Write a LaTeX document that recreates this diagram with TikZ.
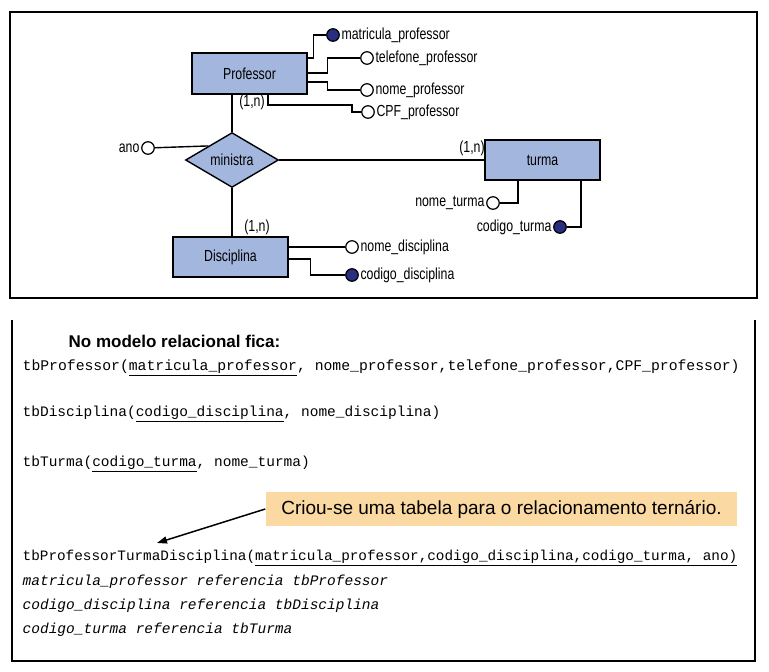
\documentclass[tikz,border=0pt]{standalone}
\usepackage{fontspec}
\setmainfont{Liberation Sans}
\newfontfamily\nar{Liberation Sans}[FakeStretch=0.77]
\setmonofont{Liberation Mono}
\usetikzlibrary{shapes.geometric,arrows.meta}
\definecolor{entfill}{HTML}{A3B6DD}
\definecolor{keyfill}{HTML}{2A2E80}
\definecolor{notefill}{HTML}{FBD9A2}
\newcommand\erfont{\nar\fontsize{16}{19}\selectfont}
\newcommand\codefont{\ttfamily\fontsize{14.5}{17}\selectfont}
\begin{document}
\begin{tikzpicture}[x=1pt,y=-1pt,line width=1.4pt,
  ent/.style={draw,fill=entfill,minimum width=115pt,minimum height=40pt,inner sep=0pt,font=\erfont},
  rel/.style={draw,fill=entfill,diamond,minimum width=93pt,minimum height=48pt,inner sep=0pt,font=\erfont},
  attr/.style={circle,draw,fill=white,minimum size=12.5pt,inner sep=0pt,line width=1.2pt},
  keyattr/.style={attr,fill=keyfill},
  lbl/.style={font=\erfont,inner sep=1pt},
  card/.style={font=\erfont,inner sep=0pt},
  mono/.style={font=\codefont,anchor=west,inner sep=0pt},
  frame/.style={line width=1.8pt,draw=black},
  note/.style={fill=notefill,minimum width=471pt,minimum height=34pt,inner sep=0pt,font=\fontsize{19}{22}\selectfont},
  title/.style={font=\bfseries\fontsize{17}{20}\selectfont,anchor=west,inner sep=0pt}
  ]
\useasboundingbox (0,0) rectangle (769,672);
% frames
\draw[frame] (10,12) rectangle (757,298);
\draw[frame] (12,320) -- (12,661) -- (755,661) -- (755,320);

% entities
\node[ent,minimum height=41pt] (prof) at (249.5,73.5) {Professor};
\node[ent] (turma) at (542.5,160) {turma};
\node[ent] (disc) at (230.5,257) {Disciplina};
\node[rel] (min) at (232,160) {ministra};

% attributes
\node[keyattr,label={[lbl]right:matricula\_professor}] (matr) at (333,35) {};
\node[attr,label={[lbl]right:telefone\_professor}] (tel) at (367,58) {};
\node[attr,label={[lbl]right:nome\_professor}] (nomep) at (367,90) {};
\node[attr,label={[lbl]right:CPF\_professor}] (cpf) at (368,112) {};
\node[attr,label={[lbl]left:ano}] (ano) at (148,148) {};
\node[attr,label={[lbl]left:nome\_turma}] (nomet) at (493,203) {};
\node[keyattr,label={[lbl]left:codigo\_turma}] (codt) at (560,227) {};
\node[attr,label={[lbl]right:nome\_disciplina}] (nomed) at (352,247) {};
\node[keyattr,label={[lbl]right:codigo\_disciplina}] (codd) at (352,275) {};

% cardinalities
\node[card] (c1) at (252,102) {(1,n)};
\node[card] (c2) at (472,148) {(1,n)};
\node[card] (c3) at (257,227) {(1,n)};

% connectors
\draw ([yshift=15.5pt]prof.east) -- ++(6,0) |- (matr);
\draw ([yshift=0.5pt]prof.east) -- ++(20,0) |- (tel);
\draw ([yshift=-8.5pt]prof.east) -- ++(20,0) |- (nomep);
\draw ([xshift=18.5pt]prof.south) |- (352,105) |- (cpf);
\draw (min.north |- prof.south) -- (min.north);
\draw (ano) -- (min.north west);
\draw (min.east) -- (turma.west);
\draw (min.south) -- (min.south |- disc.north);
\draw ([xshift=-24.5pt]turma.south) |- (nomet);
\draw ([xshift=38.5pt]turma.south) |- (codt);
\draw (nomed -| disc.east) -- (nomed);
\draw ([yshift=-2pt]disc.east) -- ++(22,0) |- (codd);

% relational model
\node[title] (t) at (68,341) {No modelo relacional fica:};
\node[mono,font=\ttfamily\fontsize{14.75}{17}\selectfont] (l1) at (22,368) {tbProfessor(\underline{matricula\_professor}, nome\_professor,telefone\_professor,CPF\_professor)};
\node[mono] (l2) at (22,414) {tbDisciplina(\underline{codigo\_disciplina}, nome\_disciplina)};
\node[mono] (l3) at (22,464) {tbTurma(\underline{codigo\_turma}, nome\_turma)};
\node[note] (callout) at (501.5,509) {Criou-se uma tabela para o relacionamento ternário.};
\coordinate (tip) at (157,543);
\draw[-{Triangle[length=10pt,width=7pt]},line width=1.5pt] (callout.west) -- (tip);
\node[mono,font=\ttfamily\fontsize{14.35}{17}\selectfont] (l4) at (22,558) {tbProfessorTurmaDisciplina(\underline{matricula\_professor,codigo\_disciplina,codigo\_turma, ano)}};
\node[mono,font=\codefont\itshape] (l5) at (22,582) {matricula\_professor referencia tbProfessor};
\node[mono,font=\codefont\itshape] (l6) at (22,606) {codigo\_disciplina referencia tbDisciplina};
\node[mono,font=\codefont\itshape] (l7) at (22,630) {codigo\_turma referencia tbTurma};
\end{tikzpicture}
\end{document}
